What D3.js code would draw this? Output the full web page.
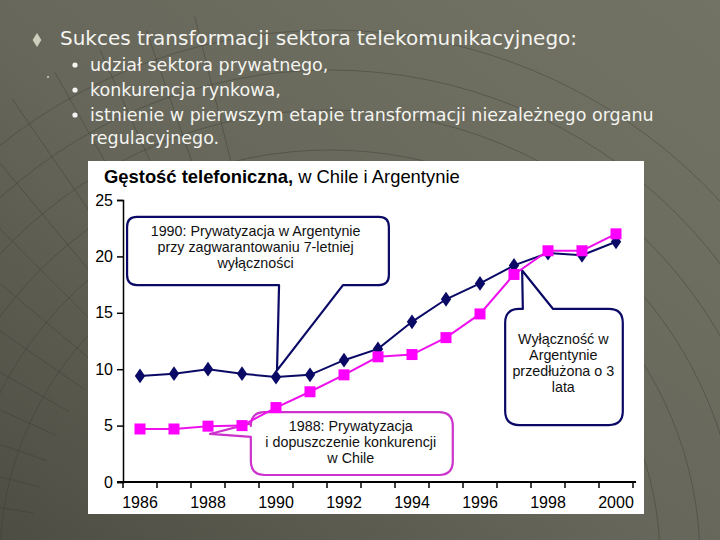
<!DOCTYPE html>
<html>
<head>
<meta charset="utf-8">
<script src="https://cdn.jsdelivr.net/npm/d3@7"></script>
<style>
  body { margin: 0; background: #66665a; }
  svg { display: block; }
</style>
</head>
<body>
<div id="slide"></div>
<script>
// dane
const years = ["1986", "1987", "1988", "1989", "1990", "1991", "1992", "1993",
               "1994", "1995", "1996", "1997", "1998", "1999", "2000"];
const chile = [9.4, 9.6, 10.0, 9.6, 9.3, 9.5, 10.8, 11.8, 14.2, 16.2, 17.6, 19.2, 20.3, 20.1, 21.3];
const argentyna = [4.7, 4.7, 4.95, 5.0, 6.6, 8.0, 9.5, 11.1, 11.3, 12.8, 14.9, 18.4, 20.5, 20.5, 22.0];
const yTicks = [0, 5, 10, 15, 20, 25];
const xLabels = ["1986", "1988", "1990", "1992", "1994", "1996", "1998", "2000"];

const bullets = ["udział sektora prywatnego,", "konkurencja rynkowa,",
                 "istnienie w pierwszym etapie transformacji niezależnego organu", "regulacyjnego."];

const W = 720, H = 540;
const svg = d3.select("#slide").append("svg")
    .attr("width", W)
    .attr("height", H);

// tlo slajdu
const defs = svg.append("defs");
const bg = defs.append("linearGradient").attr("id", "bg")
    .attr("x1", 1).attr("y1", 0).attr("x2", 0).attr("y2", 1);
bg.append("stop").attr("offset", 0).attr("stop-color", "#737365");
bg.append("stop").attr("offset", 0.55).attr("stop-color", "#66665a");
bg.append("stop").attr("offset", 1).attr("stop-color", "#4d4d43");
svg.append("rect").attr("width", W).attr("height", H).attr("fill", "url(#bg)");

// luki w tle (dekoracja)
const deco = svg.append("g").attr("fill", "none")
    .attr("stroke", "#3f3f36").attr("stroke-opacity", 0.45).attr("stroke-width", 1);
d3.range(6).forEach(i => {
  deco.append("circle").attr("cx", 330).attr("cy", 560).attr("r", 330 + i * 40);
});
d3.range(14).forEach(i => {
  const a = -Math.PI * 0.95 + i * 0.09;
  deco.append("line")
      .attr("x1", 330 + Math.cos(a) * 300).attr("y1", 560 + Math.sin(a) * 300)
      .attr("x2", 330 + Math.cos(a) * 560).attr("y2", 560 + Math.sin(a) * 560);
});

// tekst slajdu
svg.append("path")
    .attr("d", d3.symbol(d3.symbolDiamond, 55)())
    .attr("transform", "translate(37,40) scale(1.1,1)")
    .attr("fill", "#cfcfbd");
svg.append("rect").attr("x", 47).attr("y", 76).attr("width", 2).attr("height", 2).attr("fill", "#b8b8a8");

svg.append("text")
    .attr("x", 60).attr("y", 45)
    .attr("fill", "#f4f4f0")
    .style("font", "20px 'DejaVu Sans'")
    .text("Sukces transformacji sektora telekomunikacyjnego:");

const bl = svg.append("g").attr("fill", "#f4f4f0").style("font", "17.5px 'DejaVu Sans'");
bullets.forEach((t, i) => {
  const yy = [71, 96, 121, 144][i];
  if (i < 3) bl.append("circle").attr("cx", 75).attr("cy", yy - 6).attr("r", 2.6);
  bl.append("text").attr("x", 90).attr("y", yy).text(t);
});

// panel wykresu
svg.append("rect")
    .attr("x", 88).attr("y", 161).attr("width", 556).attr("height", 353)
    .attr("fill", "#ffffff");

const plot = { left: 123, right: 633, top: 200, bottom: 482 };

const x = d3.scaleBand().domain(years).range([plot.left, plot.right]);
const xl = d3.scaleLinear().domain([1985.5, 2000.5]).range([plot.left, plot.right]);
const y = d3.scaleLinear().domain([0, 25]).range([plot.bottom, plot.top]);

const title = svg.append("text")
    .attr("x", 104).attr("y", 183)
    .attr("fill", "#000")
    .style("font", "18.4px 'Liberation Sans'");
title.append("tspan").attr("font-weight", "bold").text("Gęstość telefoniczna,");
title.append("tspan").text(" w Chile i Argentynie");

// os Y
const yAxis = svg.append("g")
    .attr("transform", `translate(${plot.left},0)`)
    .call(d3.axisLeft(y).tickValues(yTicks).tickSize(6).tickPadding(4));
yAxis.select(".domain").attr("stroke", "#000").attr("stroke-width", 1.5);
yAxis.selectAll("line").attr("stroke", "#000").attr("stroke-width", 1.5);
yAxis.selectAll("text").style("font", "16px 'Liberation Sans'").attr("fill", "#000");

// os X - kreski na granicach kategorii, etykiety co dwa lata
const bounds = years.map(d => x(d)).concat([plot.right]);
const xAxis = svg.append("g");
xAxis.append("line")
    .attr("x1", plot.left - 6).attr("x2", plot.right + 3)
    .attr("y1", plot.bottom).attr("y2", plot.bottom)
    .attr("stroke", "#000").attr("stroke-width", 2);
xAxis.selectAll(".tk").data(bounds).join("line")
    .attr("class", "tk")
    .attr("x1", d => d).attr("x2", d => d)
    .attr("y1", plot.bottom).attr("y2", plot.bottom + 6)
    .attr("stroke", "#000").attr("stroke-width", 1.5);
xAxis.selectAll(".lb").data(xLabels).join("text")
    .attr("class", "lb")
    .attr("x", d => x(d) + x.bandwidth() / 2)
    .attr("y", plot.bottom + 26)
    .attr("text-anchor", "middle")
    .attr("fill", "#000")
    .style("font", "16px 'Liberation Sans'")
    .text(d => d);

// dymki (objasnienia)
const notes = [
  { color: "#0a0a66", box: [1985.62, 23.5, 1993.32, 17.46], r: 10,
    tip: [1990.03, 9.9], base: [[1990.09, 17.46], [1991.97, 17.46]], side: "bottom",
    lines: ["1990: Prywatyzacja w Argentynie", "przy zagwarantowaniu 7-letniej", "wyłączności"],
    text: [1989.4, 21.8] },
  { color: "#0a0a66", box: [1996.74, 15.34, 2000.2, 5.05], r: 14,
    tip: [1997.24, 18.75], base: [[1997.26, 15.34], [1998.15, 15.34]], side: "top",
    lines: ["Wyłączność w", "Argentynie", "przedłużona o 3", "lata"],
    text: [1998.45, 12.25] },
  { color: "#cc33cc", box: [1989.26, 6.2, 1995.2, 0.62], r: 14,
    tip: [1988.06, 4.26], base: [[1989.26, 5.2], [1989.26, 4.0]], side: "left",
    lines: ["1988: Prywatyzacja", "i dopuszczenie konkurencji", "w Chile"],
    text: [1992.2, 4.5] }
];

function calloutPath(n) {
  const x0 = xl(n.box[0]), y0 = y(n.box[1]), x1 = xl(n.box[2]), y1 = y(n.box[3]);
  const r = n.r;
  const t = [xl(n.tip[0]), y(n.tip[1])];
  const b = n.base.map(p => [xl(p[0]), y(p[1])]);
  const p = d3.path();
  p.moveTo(x0 + r, y0);
  if (n.side === "top") { p.lineTo(b[0][0], y0); p.lineTo(t[0], t[1]); p.lineTo(b[1][0], y0); }
  p.lineTo(x1 - r, y0);
  p.quadraticCurveTo(x1, y0, x1, y0 + r);
  p.lineTo(x1, y1 - r);
  p.quadraticCurveTo(x1, y1, x1 - r, y1);
  if (n.side === "bottom") { p.lineTo(b[1][0], y1); p.lineTo(t[0], t[1]); p.lineTo(b[0][0], y1); }
  p.lineTo(x0 + r, y1);
  p.quadraticCurveTo(x0, y1, x0, y1 - r);
  if (n.side === "left") { p.lineTo(x0, b[1][1]); p.lineTo(t[0], t[1]); p.lineTo(x0, b[0][1]); }
  p.lineTo(x0, y0 + r);
  p.quadraticCurveTo(x0, y0, x0 + r, y0);
  p.closePath();
  return p.toString();
}

const ann = svg.append("g");
notes.forEach(n => {
  ann.append("path")
      .attr("d", calloutPath(n))
      .attr("fill", "none")
      .attr("stroke", n.color)
      .attr("stroke-width", 2.2)
      .attr("stroke-linejoin", "round");
  const tx = ann.append("text")
      .attr("text-anchor", "middle")
      .attr("fill", "#111")
      .style("font", "14.3px 'Liberation Sans'");
  n.lines.forEach((l, i) => {
    tx.append("tspan")
        .attr("x", xl(n.text[0]))
        .attr("y", y(n.text[1]) + i * 16)
        .text(l);
  });
});

// serie
const cx = d => x(d) + x.bandwidth() / 2;
const line = d3.line().x((d, i) => cx(years[i])).y(d => y(d));

svg.append("path").datum(chile)
    .attr("fill", "none").attr("stroke", "#0a0a66").attr("stroke-width", 2).attr("d", line);
svg.append("path").datum(argentyna)
    .attr("fill", "none").attr("stroke", "#ee11ee").attr("stroke-width", 2).attr("d", line);

svg.append("g").selectAll("path").data(chile).join("path")
    .attr("d", d3.symbol(d3.symbolDiamond, 70)())
    .attr("transform", (d, i) => `translate(${cx(years[i])},${y(d)}) scale(1.15,0.95)`)
    .attr("fill", "#0a0a66");
svg.append("g").selectAll("rect").data(argentyna).join("rect")
    .attr("x", (d, i) => cx(years[i]) - 5.5)
    .attr("y", d => y(d) - 5.5)
    .attr("width", 11).attr("height", 11)
    .attr("fill", "#ff00ff");
</script>
</body>
</html>
